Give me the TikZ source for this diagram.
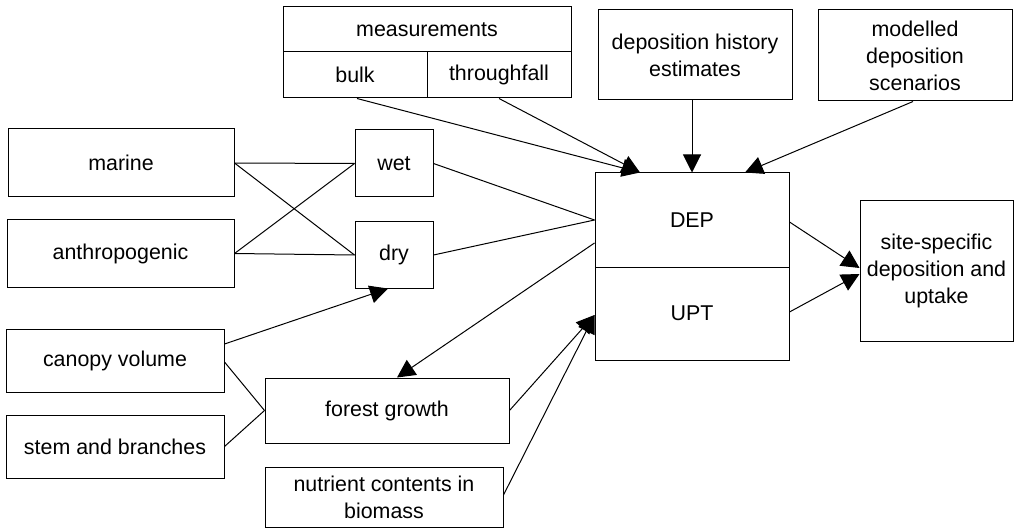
\documentclass[tikz,border=0pt]{standalone}
\usepackage{fontspec}
\setmainfont{Liberation Sans}
\usetikzlibrary{arrows.meta}
\begin{document}
\begin{tikzpicture}[x=1pt,y=-1pt,
  box/.style={draw=black, line width=1pt, inner sep=0pt, align=center, font=\fontsize{21.4}{27}\selectfont},
  conn/.style={line width=1pt},
  arr/.style={line width=1pt, -{Triangle[length=18pt,width=18pt]}}]
\useasboundingbox (0,0) rectangle (1016,529);
% boxes
\node[box, minimum width=288pt, minimum height=45pt] (meas) at (427,29.5) {measurements};
\node[box, minimum width=144pt, minimum height=46pt] (bulk) at (355,75) {bulk};
\node[box, minimum width=144pt, minimum height=46pt] (thru) at (499,75) {throughfall};
\node[box, minimum width=194pt, minimum height=90pt] (hist) at (695,55) {deposition history\\estimates};
\node[box, minimum width=194pt, minimum height=91pt] (model) at (915,55.5) {modelled\\deposition\\scenarios};
\node[box, minimum width=226pt, minimum height=68pt] (marine) at (121,163) {marine};
\node[box, minimum width=227pt, minimum height=67pt] (anthro) at (120.5,253.5) {anthropogenic};
\node[box, minimum width=78pt, minimum height=67pt] (wet) at (394,163.5) {wet};
\node[box, minimum width=78pt, minimum height=66pt] (dry) at (394,255) {dry};
\node[box, minimum width=194pt, minimum height=94pt] (dep) at (692,220) {DEP};
\node[box, minimum width=194pt, minimum height=93pt] (upt) at (692,313.5) {UPT};
\node[box, minimum width=153pt, minimum height=140pt] (site) at (936.5,271) {site-specific\\deposition and\\uptake};
\node[box, minimum width=218pt, minimum height=63pt] (canopy) at (115,360.5) {canopy volume};
\node[box, minimum width=218pt, minimum height=63pt] (stem) at (115,446.5) {stem and branches};
\node[box, minimum width=244pt, minimum height=65pt] (forest) at (387,410.5) {forest growth};
\node[box, minimum width=238pt, minimum height=60pt] (nutr) at (384,497) {nutrient contents in\\biomass};
% connectors
\draw[conn] (marine.east) -- (wet.west);
\draw[conn] (marine.east) -- (dry.west);
\draw[conn] (anthro.east) -- (wet.west);
\draw[conn] (anthro.east) -- (dry.west);
\draw[conn] (wet.east) -- (dep.west);
\draw[conn] (dry.east) -- (dep.west);
\draw[arr] ([yshift=-23pt]dep.west) -- ([xshift=10pt]forest.north);
\draw[arr] ([yshift=16.5pt]canopy.east) -- ([xshift=-6pt]dry.south);
\draw[conn] ([yshift=-1.5pt]canopy.east) -- (forest.west);
\draw[conn] (stem.east) -- (forest.west);
\draw[arr] (forest.east) -- ([yshift=-1.5pt]upt.west);
\draw[arr] ([yshift=2pt]nutr.east) -- ([yshift=-1.5pt]upt.west);
\draw[arr] ([xshift=2pt]bulk.south) -- ([xshift=-52pt]dep.north);
\draw[arr] (thru.south) -- ([xshift=-52pt]dep.north);
\draw[arr] (dep.north |- hist.south) -- (dep.north);
\draw[arr] ([xshift=-2pt]model.south) -- ([xshift=53pt]dep.north);
\draw[arr] ([yshift=-2pt]dep.east) -- ([yshift=3pt]site.west);
\draw[arr] ([yshift=1.5pt]upt.east) -- ([yshift=-3pt]site.west);
\end{tikzpicture}
\end{document}
